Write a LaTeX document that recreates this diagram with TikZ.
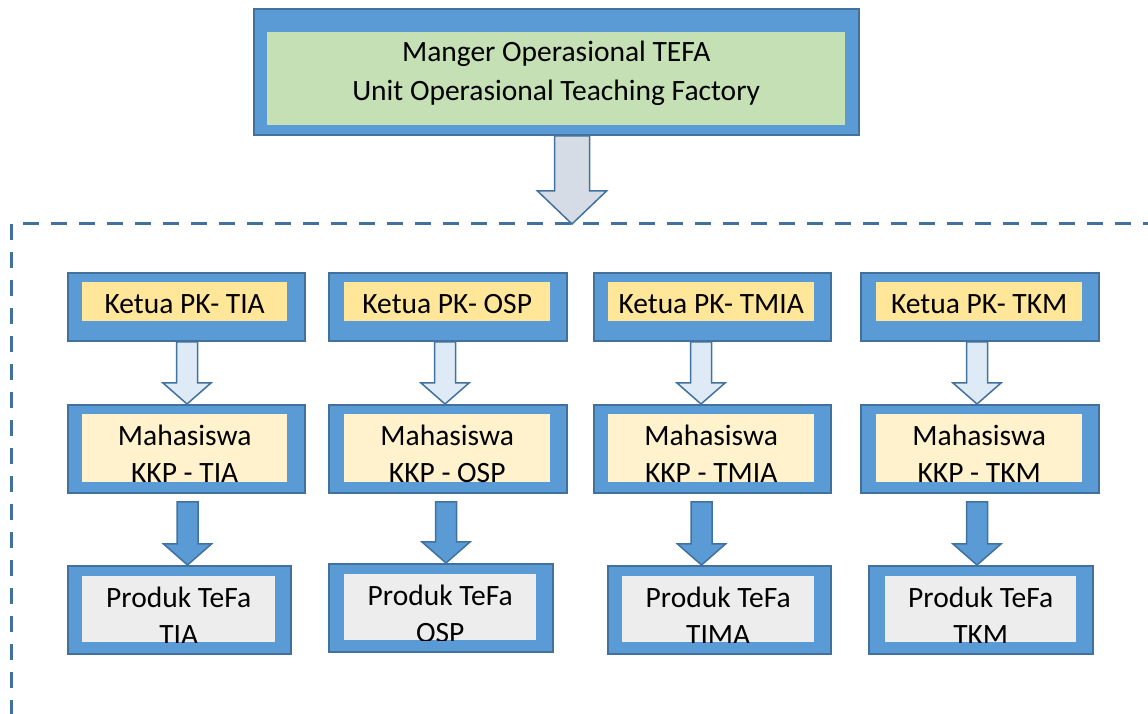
\documentclass[tikz,border=0pt]{standalone}
\usepackage{fontspec}
\setmainfont{Carlito}
\usepackage{tikz}
\usetikzlibrary{positioning,calc}
\definecolor{framedark}{RGB}{65,113,156}
\definecolor{frameblue}{RGB}{91,155,213}
\definecolor{mgrgreen}{RGB}{197,224,180}
\definecolor{ketuayellow}{RGB}{255,230,153}
\definecolor{mhscream}{RGB}{255,242,204}
\definecolor{produkgray}{RGB}{237,237,237}
\definecolor{lightarrow}{RGB}{222,235,247}
\definecolor{toparrow}{RGB}{214,220,229}

% block arrow: style, from, to, x offset, gap below the upper box
\newcommand{\flowarrow}[5]{%
  \draw[#1] let \p1=($(#2.south)+(#4,-#5)$), \p2=(#3.north) in
    (\x1-10.5pt,\y1) -- (\x1-10.5pt,\y2+21pt) -- (\x1-24pt,\y2+21pt) -- (\x1,\y2)
    -- (\x1+24pt,\y2+21pt) -- (\x1+10.5pt,\y2+21pt) -- (\x1+10.5pt,\y1) -- cycle;}

\begin{document}
\begin{tikzpicture}[x=1pt, y=1pt,
    outerbox/.style={draw=framedark, line width=2pt, fill=frameblue, inner sep=0pt},
    innerbox/.style={inner sep=0pt},
    mgrbox/.style={innerbox, fill=mgrgreen},
    ketuabox/.style={innerbox, fill=ketuayellow},
    mhsbox/.style={innerbox, fill=mhscream},
    produkbox/.style={innerbox, fill=produkgray},
    boxtext/.style={anchor=center, fill=none, draw=none, inner sep=0pt, minimum width=0pt,
      minimum height=0pt, align=center, font=\fontsize{29.5}{37}\selectfont},
    lightarr/.style={draw=framedark, line width=1.5pt, fill=lightarrow},
    darkarr/.style={draw=framedark, line width=1.5pt, fill=frameblue},
    toparr/.style={draw=framedark, line width=1.5pt, fill=toparrow},
    framedash/.style={draw=framedark, line width=3pt, dash pattern=on 16pt off 12pt}]
  \useasboundingbox (0,0) rectangle (1148,714);

  % Manager box
  \node[outerbox, minimum width=605, minimum height=126] (mgr) at (556.5,642) {};
  \node[mgrbox, minimum width=578, minimum height=93, below right=24pt and 14pt of mgr.north west,
    path picture={\node[boxtext, font=\fontsize{29.5}{39}\selectfont] (mgrtext) at ([yshift=5pt]path picture bounding box.center)
      {Manger Operasional TEFA\\Unit Operasional Teaching Factory};}] (mgrin) {};

  % Dashed frame round the units
  \coordinate (frame) at (11,490);
  \coordinate (tip) at (572,490);
  \draw[framedash] (frame) -- (11,-20);
  \draw[framedash] ([xshift=12pt]frame) -- (1170,490);

  % Arrow from manager to the units
  \draw[toparr] let \p1=($(mgr.south)+(15.5,0)$), \p2=(tip) in
    (\x1-17.5pt,\y1) -- (\x1-17.5pt,\y2+33pt) -- (\x1-34.5pt,\y2+33pt) -- (\x2,\y2)
    -- (\x1+34.5pt,\y2+33pt) -- (\x1+17.5pt,\y2+33pt) -- (\x1+17.5pt,\y1) -- cycle;

  % Ketua PK boxes
  \node[outerbox, minimum width=237, minimum height=68] (k1) at (186.5,407) {};
  \node[outerbox, minimum width=238, minimum height=68] (k2) at (448,407) {};
  \node[outerbox, minimum width=237, minimum height=68] (k3) at (712.5,407) {};
  \node[outerbox, minimum width=238, minimum height=68] (k4) at (980,407) {};
  \node[ketuabox, minimum width=205, minimum height=39, below right=10pt and 15pt of k1.north west,
    path picture={\node[boxtext] (kt1) at ([yshift=-2pt]path picture bounding box.center) {Ketua PK- TIA};}] (ki1) {};
  \node[ketuabox, minimum width=206, minimum height=39, below right=10pt and 16pt of k2.north west,
    path picture={\node[boxtext] (kt2) at ([yshift=-2pt]path picture bounding box.center) {Ketua PK- OSP};}] (ki2) {};
  \node[ketuabox, minimum width=206, minimum height=39, below right=10pt and 15pt of k3.north west,
    path picture={\node[boxtext] (kt3) at ([yshift=-2pt]path picture bounding box.center) {Ketua PK- TMIA};}] (ki3) {};
  \node[ketuabox, minimum width=206, minimum height=39, below right=10pt and 16pt of k4.north west,
    path picture={\node[boxtext] (kt4) at ([yshift=-2pt]path picture bounding box.center) {Ketua PK- TKM};}] (ki4) {};

  % Mahasiswa boxes
  \node[outerbox, minimum width=237, minimum height=88] (m1) at (186.5,265) {};
  \node[outerbox, minimum width=238, minimum height=88] (m2) at (448,265) {};
  \node[outerbox, minimum width=237, minimum height=88] (m3) at (712.5,265) {};
  \node[outerbox, minimum width=238, minimum height=88] (m4) at (980,265) {};
  \node[mhsbox, minimum width=205, minimum height=68, below right=10pt and 15pt of m1.north west,
    path picture={\node[boxtext] (mt1) at ([yshift=-5.5pt]path picture bounding box.center) {Mahasiswa\\KKP - TIA};}] (mi1) {};
  \node[mhsbox, minimum width=206, minimum height=68, below right=10pt and 16pt of m2.north west,
    path picture={\node[boxtext] (mt2) at ([yshift=-5.5pt]path picture bounding box.center) {Mahasiswa\\KKP - OSP};}] (mi2) {};
  \node[mhsbox, minimum width=206, minimum height=68, below right=10pt and 15pt of m3.north west,
    path picture={\node[boxtext] (mt3) at ([yshift=-5.5pt]path picture bounding box.center) {Mahasiswa\\KKP - TMIA};}] (mi3) {};
  \node[mhsbox, minimum width=206, minimum height=68, below right=10pt and 16pt of m4.north west,
    path picture={\node[boxtext] (mt4) at ([yshift=-5.5pt]path picture bounding box.center) {Mahasiswa\\KKP - TKM};}] (mi4) {};

  % Produk boxes (text cut off by the box)
  \node[outerbox, minimum width=223, minimum height=88] (p1) at (179.5,104) {};
  \node[outerbox, minimum width=224, minimum height=88] (p2) at (441,106) {};
  \node[outerbox, minimum width=223, minimum height=88] (p3) at (719.5,104) {};
  \node[outerbox, minimum width=224, minimum height=88] (p4) at (981,104) {};
  \node[produkbox, minimum width=193, minimum height=66, below right=11pt and 15pt of p1.north west,
    path picture={\node[boxtext] (pt1) at ([yshift=-6.5pt]path picture bounding box.center) {Produk TeFa\\TIA};}] (pi1) {};
  \node[produkbox, minimum width=192, minimum height=66, below right=11pt and 16pt of p2.north west,
    path picture={\node[boxtext] (pt2) at ([yshift=-6.5pt]path picture bounding box.center) {Produk TeFa\\OSP};}] (pi2) {};
  \node[produkbox, minimum width=192, minimum height=66, below right=11pt and 15pt of p3.north west,
    path picture={\node[boxtext] (pt3) at ([yshift=-6.5pt]path picture bounding box.center) {Produk TeFa\\TIMA};}] (pi3) {};
  \node[produkbox, minimum width=191, minimum height=66, below right=11pt and 17pt of p4.north west,
    path picture={\node[boxtext] (pt4) at ([yshift=-6.5pt]path picture bounding box.center) {Produk TeFa\\TKM};}] (pi4) {};

  % Arrows inside the columns
  \flowarrow{lightarr}{k1}{m1}{0.5}{0}
  \flowarrow{lightarr}{k2}{m2}{-3}{0}
  \flowarrow{lightarr}{k3}{m3}{-11.5}{0}
  \flowarrow{lightarr}{k4}{m4}{-3}{0}
  \flowarrow{darkarr}{m1}{p1}{1}{8}
  \flowarrow{darkarr}{m2}{p2}{-2}{8}
  \flowarrow{darkarr}{m3}{p3}{-11}{8}
  \flowarrow{darkarr}{m4}{p4}{-3}{8}
\end{tikzpicture}
\end{document}
